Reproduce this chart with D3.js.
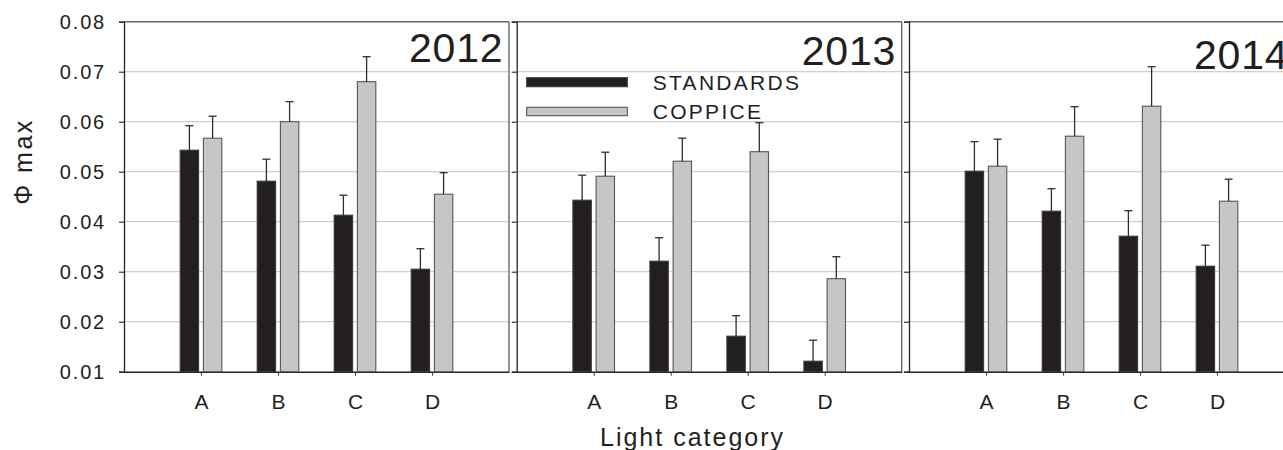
<!DOCTYPE html>
<html>
<head>
<meta charset="utf-8">
<script src="https://cdn.jsdelivr.net/npm/d3@7"></script>
<style>
  html, body { margin: 0; padding: 0; background: #fff; }
  svg { display: block; }
  svg text { font-family: "Liberation Sans", Arial, sans-serif; }
</style>
</head>
<body>
<svg id="chart" width="1283" height="450"></svg>
<script>
// Light categories and years (one panel per year)
const categories = ["A", "B", "C", "D"];
const years = ["2012", "2013", "2014"];
const seriesNames = ["STANDARDS", "COPPICE"];

// Mean Φ max per year, light category A–D
const standards2012 = [0.0543, 0.0481, 0.0413, 0.0305];
const coppice2012   = [0.0567, 0.0600, 0.0680, 0.0455];
const standards2013 = [0.0443, 0.0321, 0.0171, 0.0121];
const coppice2013   = [0.0491, 0.0521, 0.0540, 0.0286];
const standards2014 = [0.0501, 0.0421, 0.0371, 0.0311];
const coppice2014   = [0.0511, 0.0571, 0.0631, 0.0441];

// Standard errors (upper whiskers)
const standardsErr2012 = [0.0049, 0.0044, 0.0040, 0.0041];
const coppiceErr2012   = [0.0044, 0.0040, 0.0050, 0.0043];
const standardsErr2013 = [0.0050, 0.0047, 0.0041, 0.0042];
const coppiceErr2013   = [0.0048, 0.0046, 0.0058, 0.0044];
const standardsErr2014 = [0.0059, 0.0045, 0.0051, 0.0042];
const coppiceErr2014   = [0.0054, 0.0059, 0.0079, 0.0044];

// Y axis ticks
const yTicks = [0.01, 0.02, 0.03, 0.04, 0.05, 0.06, 0.07, 0.08];

const panelData = [
  { year: years[0], values: [standards2012, coppice2012], errors: [standardsErr2012, coppiceErr2012] },
  { year: years[1], values: [standards2013, coppice2013], errors: [standardsErr2013, coppiceErr2013] },
  { year: years[2], values: [standards2014, coppice2014], errors: [standardsErr2014, coppiceErr2014] }
];

// Layout
const panelLefts = [124, 516.7, 909];
const panelWidth = 385;
const plotTop = 21.7, plotBottom = 371.7;
const yearBaselines = [62, 65, 69];
const barW = 18.4, barGap = 2.4;
const fills = ["#231f20", "#c5c6c8"];
const strokes = ["#3a3738", "#555555"];
const ink = "#231f20";
const fontFamily = "'Liberation Sans', Arial, sans-serif";

const svg = d3.select("#chart");

const y = d3.scaleLinear().domain([0.01, 0.08]).range([plotBottom, plotTop]);

panelData.forEach((p, i) => {
  const left = panelLefts[i];
  const x = d3.scaleLinear().domain([0, categories.length + 1]).range([left, left + panelWidth]);
  const g = svg.append("g");

  // horizontal grid lines
  g.selectAll("line.grid")
    .data(yTicks.filter(t => t > 0.01 && t < 0.08))
    .join("line")
    .attr("class", "grid")
    .attr("x1", left).attr("x2", left + panelWidth)
    .attr("y1", d => y(d)).attr("y2", d => y(d))
    .attr("stroke", "#cfcfcf").attr("stroke-width", 1.2);

  // frame: top and right
  g.append("line").attr("x1", left).attr("x2", left + panelWidth)
    .attr("y1", y(0.08)).attr("y2", y(0.08))
    .attr("stroke", "#666").attr("stroke-width", 1.4);
  g.append("line").attr("x1", left + panelWidth).attr("x2", left + panelWidth)
    .attr("y1", y(0.08)).attr("y2", y(0.01))
    .attr("stroke", "#666").attr("stroke-width", 1.4);

  // left axis
  const yAxis = d3.axisLeft(y).tickValues(yTicks).tickSize(5).tickFormat(i === 0 ? d3.format(".2f") : () => "");
  const ya = g.append("g").attr("transform", `translate(${left},0)`).call(yAxis)
    .attr("font-family", fontFamily);
  ya.select(".domain").attr("stroke", "#222").attr("stroke-width", 1.3);
  ya.selectAll(".tick line").attr("stroke", "#222").attr("stroke-width", 1.1);
  ya.selectAll(".tick text")
    .attr("x", -18)
    .attr("dy", "0.36em")
    .attr("fill", ink)
    .style("font-size", "20px")
    .style("letter-spacing", "1.8px");

  // bottom axis
  const xAxis = d3.axisBottom(x).tickValues(d3.range(1, categories.length + 1))
    .tickSize(4).tickSizeOuter(0).tickFormat(d => categories[d - 1]);
  const xa = g.append("g").attr("transform", `translate(0,${plotBottom})`).call(xAxis)
    .attr("font-family", fontFamily);
  xa.select(".domain").attr("stroke", "#222").attr("stroke-width", 1.4);
  xa.selectAll(".tick line").attr("stroke", "#444").attr("stroke-width", 1.1);
  xa.selectAll(".tick text")
    .attr("y", 22.5).attr("dy", "0.71em")
    .attr("fill", ink)
    .style("font-size", "21px");

  // bars and error bars
  p.values.forEach((vals, s) => {
    const bx = j => s === 0 ? x(j + 1) - barGap - barW : x(j + 1) + barGap;
    g.selectAll(`rect.s${s}`)
      .data(vals)
      .join("rect")
      .attr("class", `s${s}`)
      .attr("x", (d, j) => bx(j))
      .attr("width", barW)
      .attr("y", d => y(d))
      .attr("height", d => y(0.01) - y(d))
      .attr("fill", fills[s])
      .attr("stroke", strokes[s])
      .attr("stroke-width", 1.1);

    const errs = p.errors[s];
    g.selectAll(`line.err${s}`)
      .data(vals)
      .join("line")
      .attr("class", `err${s}`)
      .attr("x1", (d, j) => bx(j) + barW / 2).attr("x2", (d, j) => bx(j) + barW / 2)
      .attr("y1", d => y(d)).attr("y2", (d, j) => y(d + errs[j]))
      .attr("stroke", "#2e2e2e").attr("stroke-width", 1.3);
    g.selectAll(`line.cap${s}`)
      .data(vals)
      .join("line")
      .attr("class", `cap${s}`)
      .attr("x1", (d, j) => bx(j) + barW / 2 - 4).attr("x2", (d, j) => bx(j) + barW / 2 + 4)
      .attr("y1", (d, j) => y(d + errs[j])).attr("y2", (d, j) => y(d + errs[j]))
      .attr("stroke", "#2e2e2e").attr("stroke-width", 1.3);
  });

  // year label
  g.append("text")
    .attr("x", left + 285)
    .attr("y", yearBaselines[i])
    .attr("fill", ink)
    .style("font-size", "41px")
    .style("letter-spacing", "0.8px")
    .text(p.year);
});

// legend inside the middle panel
const lg = svg.append("g").attr("transform", `translate(${panelLefts[1]},0)`);
seriesNames.forEach((name, s) => {
  const sy = s === 0 ? 77.7 : 107.3;
  lg.append("rect")
    .attr("x", 10).attr("y", sy).attr("width", 100.6).attr("height", s === 0 ? 9 : 8.4)
    .attr("fill", fills[s]).attr("stroke", strokes[s]).attr("stroke-width", 1.1);
  lg.append("text")
    .attr("x", 136).attr("y", s === 0 ? 90 : 118.5)
    .attr("fill", ink)
    .style("font-size", "21px")
    .style("letter-spacing", "2.3px")
    .text(name);
});

// axis titles
svg.append("text")
  .attr("transform", "translate(32,161.5) rotate(-90)")
  .attr("text-anchor", "middle")
  .attr("fill", ink)
  .style("font-size", "25px")
  .style("letter-spacing", "2.5px")
  .text("Φ max");

svg.append("text")
  .attr("x", 600).attr("y", 445.5)
  .attr("fill", ink)
  .style("font-size", "25px")
  .style("letter-spacing", "2px")
  .text("Light category");
</script>
</body>
</html>
